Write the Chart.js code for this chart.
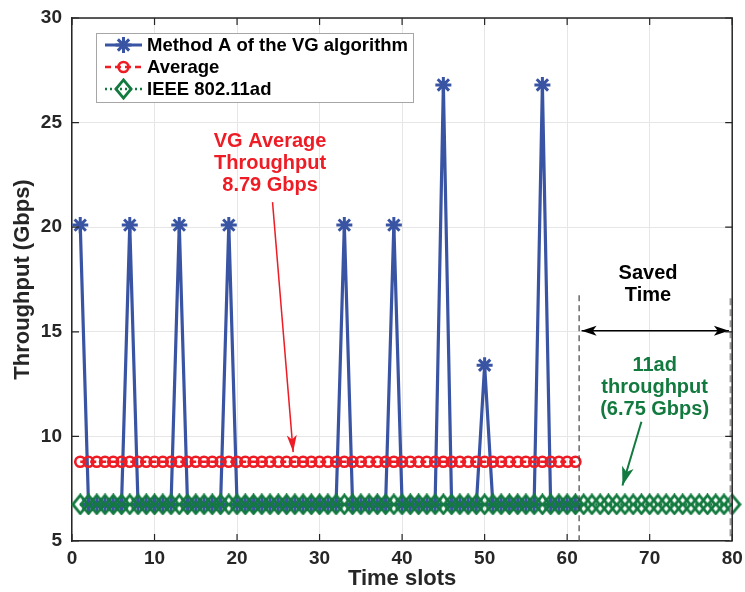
<!DOCTYPE html>
<html>
<head>
<meta charset="utf-8">
<script src="https://cdn.jsdelivr.net/npm/chart.js@4.4.1/dist/chart.umd.min.js"></script>
<style>
  html, body { margin: 0; padding: 0; background: #fff; }
  canvas { display: block; }
</style>
</head>
<body>
<canvas id="throughputChart" width="745" height="592"></canvas>
<script>
// Method A throughput per time slot (Gbps), slots 1..61
const methodValues = [
  20.1, 6.75, 6.75, 6.75, 6.75, 6.75, 20.1, 6.75, 6.75, 6.75,
  6.75, 6.75, 20.1, 6.75, 6.75, 6.75, 6.75, 6.75, 20.1, 6.75,
  6.75, 6.75, 6.75, 6.75, 6.75, 6.75, 6.75, 6.75, 6.75, 6.75,
  6.75, 6.75, 20.1, 6.75, 6.75, 6.75, 6.75, 6.75, 20.1, 6.75,
  6.75, 6.75, 6.75, 6.75, 26.8, 6.75, 6.75, 6.75, 6.75, 13.4,
  6.75, 6.75, 6.75, 6.75, 6.75, 6.75, 26.8, 6.75, 6.75, 6.75,
  6.75
];
const averageValue = 8.79;   // VG average, slots 1..61
const averageSlots = 61;
const ieeeValue = 6.75;      // 802.11ad, slots 1..80
const ieeeSlots = 80;

const xTickValues = [0, 10, 20, 30, 40, 50, 60, 70, 80];
const yTickValues = [5, 10, 15, 20, 25, 30];
const seriesLabels = ['Method A of the VG algorithm', 'Average', 'IEEE 802.11ad'];

const BLUE = '#3a54a4';
const RED = '#ee1c25';
const GREEN = '#137a3f';
const AXIS = '#262626';
const FONT = "'Liberation Sans', Arial, Helvetica, sans-serif";

const toPoints = vals => vals.map((v, i) => ({ x: i + 1, y: v }));

// diamond marker like the matlab 'd'
function diamondMarker(w, h, color, lw) {
  const c = document.createElement('canvas');
  c.width = w; c.height = h;
  const g = c.getContext('2d');
  g.strokeStyle = color;
  g.lineWidth = lw;
  g.beginPath();
  g.moveTo(w / 2, lw / 2 + 0.5);
  g.lineTo(w - lw / 2 - 0.5, h / 2);
  g.lineTo(w / 2, h - lw / 2 - 0.5);
  g.lineTo(lw / 2 + 0.5, h / 2);
  g.closePath();
  g.stroke();
  return c;
}
const diamond = diamondMarker(19, 22, GREEN, 2.8);

// text / arrow annotations, in data units
const notes = [
  { lines: ['VG Average', 'Throughput', '8.79 Gbps'], x: 24, y: 24.1, color: RED },
  { lines: ['Saved', 'Time'], x: 69.8, y: 17.8, color: '#000' },
  { lines: ['11ad', 'throughput', '(6.75 Gbps)'], x: 70.6, y: 13.4, color: GREEN }
];
const arrows = [
  { from: [24.3, 21.2], to: [26.8, 9.25], color: RED, width: 1.5, head: 17, half: 5, both: false },
  { from: [69.0, 10.7], to: [66.7, 7.65], color: GREEN, width: 2, head: 19, half: 6, both: false },
  { from: [61.75, 15.05], to: [79.6, 15.05], color: '#000', width: 1.5, head: 15, half: 5, both: true }
];
const guides = [
  { x: 61.45, top: 16.75, color: '#444', width: 1.2, dash: [6, 4] },
  { x: 79.8, top: 16.6, color: '#9a9a9a', width: 2, dash: [7, 4] }
];

function drawHead(ctx, x, y, ang, head, half) {
  const c = Math.cos(ang), s = Math.sin(ang);
  ctx.beginPath();
  ctx.moveTo(x, y);
  ctx.lineTo(x - head * c + half * s, y - head * s - half * c);
  ctx.lineTo(x - head * 0.75 * c, y - head * 0.75 * s);
  ctx.lineTo(x - head * c - half * s, y - head * s + half * c);
  ctx.closePath();
  ctx.fill();
}

const annotations = {
  id: 'annotations',
  afterDatasetsDraw(chart) {
    const { ctx, scales: { x, y } } = chart;
    ctx.save();
    guides.forEach(g => {
      const px = x.getPixelForValue(g.x);
      ctx.strokeStyle = g.color;
      ctx.lineWidth = g.width;
      ctx.setLineDash(g.dash);
      ctx.beginPath();
      ctx.moveTo(px, y.getPixelForValue(g.top));
      ctx.lineTo(px, y.getPixelForValue(5));
      ctx.stroke();
    });
    ctx.setLineDash([]);
    arrows.forEach(a => {
      const x1 = x.getPixelForValue(a.from[0]), y1 = y.getPixelForValue(a.from[1]);
      const x2 = x.getPixelForValue(a.to[0]), y2 = y.getPixelForValue(a.to[1]);
      const ang = Math.atan2(y2 - y1, x2 - x1);
      ctx.strokeStyle = a.color;
      ctx.fillStyle = a.color;
      ctx.lineWidth = a.width;
      ctx.beginPath();
      ctx.moveTo(x1, y1);
      ctx.lineTo(x2, y2);
      ctx.stroke();
      drawHead(ctx, x2, y2, ang, a.head, a.half);
      if (a.both) drawHead(ctx, x1, y1, ang + Math.PI, a.head, a.half);
    });
    ctx.font = 'bold 20px ' + FONT;
    ctx.textAlign = 'center';
    ctx.textBaseline = 'middle';
    notes.forEach(n => {
      ctx.fillStyle = n.color;
      const px = x.getPixelForValue(n.x), py = y.getPixelForValue(n.y);
      n.lines.forEach((t, i) => ctx.fillText(t, px, py + i * 22));
    });
    ctx.restore();
  }
};

// matlab style box, inward ticks and legend
const frame = {
  id: 'frame',
  afterDraw(chart) {
    const { ctx, chartArea: a, scales: { x, y } } = chart;
    ctx.save();
    ctx.strokeStyle = AXIS;
    ctx.lineWidth = 1.5;
    ctx.beginPath();
    ctx.moveTo(a.left, a.top);
    ctx.lineTo(a.right, a.top);
    ctx.lineTo(a.right, a.bottom);
    ctx.stroke();
    ctx.lineWidth = 1.2;
    ctx.beginPath();
    xTickValues.forEach(v => {
      const px = x.getPixelForValue(v);
      ctx.moveTo(px, a.bottom); ctx.lineTo(px, a.bottom - 7);
      ctx.moveTo(px, a.top); ctx.lineTo(px, a.top + 7);
    });
    yTickValues.forEach(v => {
      const py = y.getPixelForValue(v);
      ctx.moveTo(a.left, py); ctx.lineTo(a.left + 7, py);
      ctx.moveTo(a.right, py); ctx.lineTo(a.right - 7, py);
    });
    ctx.stroke();

    // legend
    ctx.fillStyle = '#fff';
    ctx.fillRect(96, 33, 317, 69);
    ctx.strokeStyle = '#a6a6a6';
    ctx.lineWidth = 1;
    ctx.strokeRect(96.5, 33.5, 317, 69);
    const rows = [45, 67, 89];
    ctx.font = 'bold 18.5px ' + FONT;
    ctx.textAlign = 'left';
    ctx.textBaseline = 'middle';
    chart.data.datasets.forEach((ds, i) => {
      const ry = rows[i];
      ctx.strokeStyle = ds.borderColor;
      ctx.lineWidth = ds.borderWidth;
      ctx.setLineDash(ds.borderDash || []);
      ctx.beginPath();
      ctx.moveTo(105, ry);
      ctx.lineTo(142, ry);
      ctx.stroke();
      ctx.setLineDash([]);
      ctx.fillStyle = 'rgba(0,0,0,0)';
      ctx.lineWidth = ds.pointBorderWidth;
      Chart.helpers.drawPoint(ctx, {
        pointStyle: ds.pointStyle, radius: ds.pointRadius,
        rotation: 0, borderWidth: ds.pointBorderWidth
      }, 123.5, ry);
      ctx.fillStyle = '#000';
      ctx.fillText(ds.label, 147, ry + 1);
    });
    ctx.restore();
  }
};

const tickFont = { family: FONT, size: 19, weight: 'bold' };
const titleFont = { family: FONT, size: 22, weight: 'bold' };

new Chart(document.getElementById('throughputChart').getContext('2d'), {
  type: 'line',
  data: {
    datasets: [{
      label: seriesLabels[0],
      data: toPoints(methodValues),
      borderColor: BLUE,
      borderWidth: 3.2,
      pointStyle: 'star',
      pointRadius: 8,
      pointBorderWidth: 3,
      pointBorderColor: BLUE,
      pointBackgroundColor: BLUE,
      tension: 0,
      order: 3
    }, {
      label: seriesLabels[1],
      data: toPoints(new Array(averageSlots).fill(averageValue)),
      borderColor: RED,
      borderWidth: 2.5,
      borderDash: [6, 4],
      pointStyle: 'circle',
      pointRadius: 5,
      pointBorderWidth: 2.6,
      pointBorderColor: RED,
      pointBackgroundColor: 'rgba(0,0,0,0)',
      tension: 0,
      order: 2
    }, {
      label: seriesLabels[2],
      data: toPoints(new Array(ieeeSlots).fill(ieeeValue)),
      borderColor: GREEN,
      borderWidth: 2.5,
      borderDash: [2, 3],
      pointStyle: diamond,
      pointRadius: 10,
      pointBorderWidth: 2.8,
      pointBorderColor: GREEN,
      pointBackgroundColor: 'rgba(0,0,0,0)',
      tension: 0,
      clip: false,
      order: 1
    }]
  },
  options: {
    responsive: false,
    animation: false,
    events: [],
    layout: { padding: { top: 18, right: 11, left: 0, bottom: 0 } },
    plugins: { legend: { display: false }, tooltip: { enabled: false } },
    scales: {
      x: {
        type: 'linear',
        min: 0,
        max: 80,
        afterBuildTicks: s => { s.ticks = xTickValues.map(v => ({ value: v })); },
        afterFit: s => { s.height = 51; s.paddingLeft = 0; s.paddingRight = 0; },
        ticks: { font: tickFont, color: AXIS, padding: 6, maxRotation: 0, autoSkip: false },
        grid: { color: '#e6e6e6', lineWidth: 1, drawTicks: false },
        border: { color: AXIS, width: 1.5 },
        title: { display: true, text: 'Time slots', font: titleFont, color: AXIS, padding: { top: 0, bottom: 0 } }
      },
      y: {
        min: 5,
        max: 30,
        afterBuildTicks: s => { s.ticks = yTickValues.map(v => ({ value: v })); },
        afterFit: s => { s.width = 72; s.paddingTop = 0; s.paddingBottom = 0; },
        ticks: { font: tickFont, color: AXIS, padding: 10 },
        grid: { color: '#e6e6e6', lineWidth: 1, drawTicks: false },
        border: { color: AXIS, width: 1.5 },
        title: { display: true, text: 'Throughput (Gbps)', font: titleFont, color: AXIS, padding: { top: 10, bottom: 0 } }
      }
    }
  },
  plugins: [annotations, frame]
});
</script>
</body>
</html>
